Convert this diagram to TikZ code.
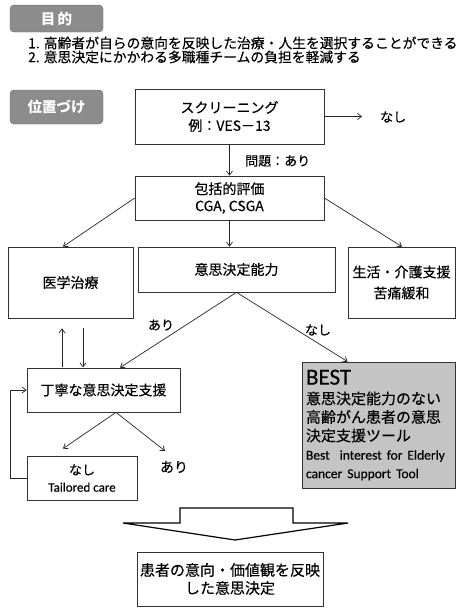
\documentclass[tikz,border=0pt]{standalone}
\usepackage{fontspec}
\setmainfont{Noto Sans CJK JP}[UprightFeatures={FakeBold=0.3}]
\newfontfamily\carlito{Carlito}[UprightFeatures={FakeBold=0.3}]
\usetikzlibrary{arrows.meta,calc}
\begin{document}
\begin{tikzpicture}[x=1pt,y=-1pt,
 box/.style={draw=black!80,line width=0.7pt,inner sep=0pt,align=center,fill=white,font=\fontsize{14}{18}\selectfont},
 lab/.style={draw=black!60,fill=black!45,rounded corners=4pt,text=white,font=\fontsize{14.5}{14.5}\selectfont\bfseries,inner sep=0pt},
 arr/.style={-{Straight Barb[length=4pt,width=6pt]},line width=0.7pt,black!85},
 txt/.style={inner sep=0pt,font=\fontsize{13}{16}\selectfont}
]
\useasboundingbox (0,0) rectangle (460,608);
\fill[white] (0,0) rectangle (460,608);

% header labels
\node[lab,minimum width=93pt,minimum height=27pt] (mokuteki) at (56.5,18.5) {目\,的};
\node[txt,anchor=west,font=\fontsize{13.8}{16}\selectfont] (goal1) at (28,43) {1. 高齢者が自らの意向を反映した治療・人生を選択することができる};
\node[txt,anchor=west,font=\fontsize{13.8}{16}\selectfont] (goal2) at (28,57) {2. 意思決定にかかわる多職種チームの負担を軽減する};
\node[lab,minimum width=93pt,minimum height=34pt] (ichi) at (56.5,107) {位置づけ};

% main boxes
\node[box,minimum width=189pt,minimum height=55pt] (screen) at (229.5,116.5) {スクリーニング\\例：VES－13};
\node[box,minimum width=189pt,minimum height=44pt,font=\fontsize{14}{17}\selectfont] (hok) at (229.5,198) {包括的評価\\CGA, CSGA};
\node[box,minimum width=125pt,minimum height=71pt] (iga) at (70.5,282.5) {医学治療};
\node[box,minimum width=197pt,minimum height=45pt] (ishi) at (236.5,269.5) {意思決定能力};
\node[box,minimum width=107pt,minimum height=71pt,font=\fontsize{14}{21}\selectfont] (seik) at (401.5,282.5) {生活・介護支援\\苦痛緩和};
\node[box,minimum width=153pt,minimum height=44pt] (teinei) at (103.5,390) {丁寧な意思決定支援};
\node[box,minimum width=110pt,minimum height=44pt,font=\fontsize{13}{17}\selectfont] (tc) at (82,478) {なし\\{\carlito Tailored care}};
\node[box,fill=black!23,minimum width=153pt,minimum height=126pt,text width=145pt,align=left,font=\fontsize{15}{18.5}\selectfont] (best) at (378.5,425)
 {{\carlito\fontsize{23}{23}\selectfont BEST}\\[1pt]
  意思決定能力のない\\
  高齢がん患者の意思\\
  決定支援ツール\\
  {\carlito\fontsize{13.5}{17.5}\selectfont Best\ \ interest for Elderly}\\
  {\carlito\fontsize{13.5}{17.5}\selectfont cancer Support Tool}};
\node[box,minimum width=186pt,minimum height=54pt,font=\fontsize{15}{18}\selectfont] (final) at (230,579) {患者の意向・価値観を反映\\した意思決定};

% text labels
\node[txt,anchor=west] (nashi1) at (380,117) {なし};
\node[txt,anchor=west] (mondai) at (245,161) {問題：あり};
\node[txt] (ari1) at (161,325) {あり};
\node[txt] (nashi2) at (318,330) {なし};
\node[txt,font=\fontsize{14}{16}\selectfont] (ari2) at (174,467) {あり};

% connectors
\draw[arr,shorten >=18pt] (screen.east) -- (screen.east -| nashi1.west);
\draw[arr] (screen.south) -- (hok.north);
\draw[arr] (hok.west) -- ([xshift=-7.5pt]iga.north);
\draw[arr] (hok.south) -- (hok.south |- ishi.north);
\draw[arr] (hok.east) -- ([xshift=0.5pt]seik.north);
\draw[arr] (ishi.south) -- ([xshift=16.5pt]teinei.north);
\draw[arr] (ishi.south) -- ([xshift=46pt]best.north west);
\draw[arr] ($(iga.south)+(-8.5,49)$) -- ($(iga.south)+(-8.5,10)$);
\draw[arr] ($(iga.south)+(12.5,10)$) -- ($(iga.south)+(12.5,49)$);
\draw[arr] ([xshift=12.5pt]teinei.south) -- ($(tc.north)+(-19,-7)$);
\draw[arr] ([xshift=12.5pt]teinei.south) -- ($(ari2.north)+(-9,-10)$);
\draw[arr] (tc.west) -- ++(-16,0) |- (teinei.west);

% big hollow arrow
\draw[line width=1.2pt,fill=white,line join=miter] (180,523) -- (180,508) -- (293,508) -- (293,523) -- (348,523) -- (235,540) -- (123,523) -- cycle;
\end{tikzpicture}
\end{document}
